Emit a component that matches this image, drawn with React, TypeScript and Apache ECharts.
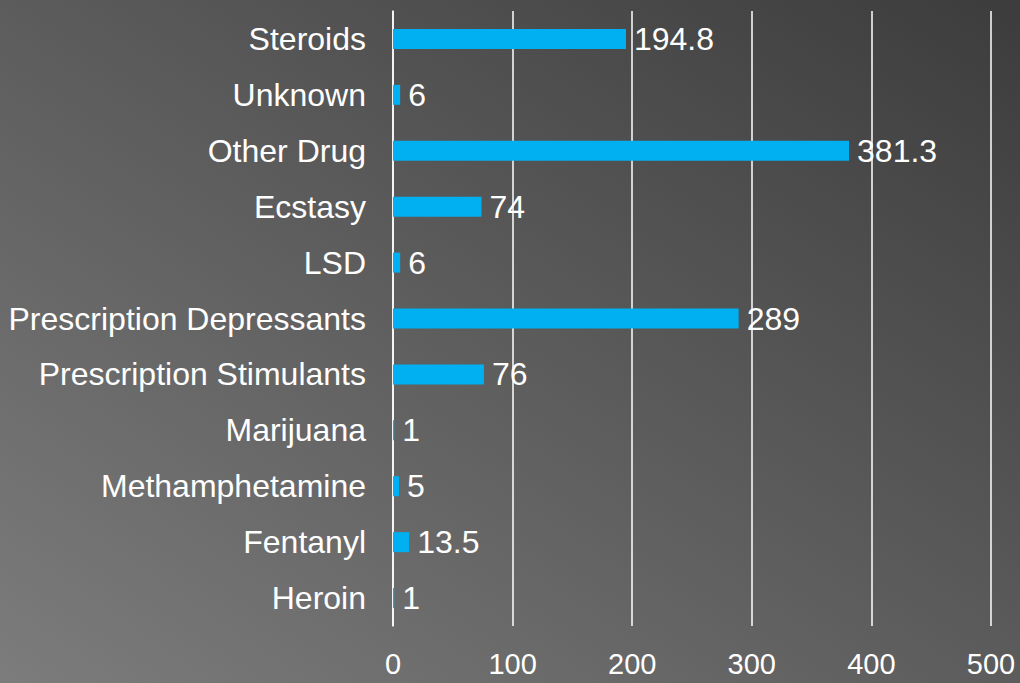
import React, { useEffect, useRef } from "react";
import * as echarts from "echarts";

const categories = [
  "Heroin",
  "Fentanyl",
  "Methamphetamine",
  "Marijuana",
  "Prescription Stimulants",
  "Prescription Depressants",
  "LSD",
  "Ecstasy",
  "Other Drug",
  "Unknown",
  "Steroids",
];
const values = [1, 13.5, 5, 1, 76, 289, 6, 74, 381.3, 6, 194.8];
const xTicks = { min: 0, max: 500, interval: 100 };

export default function App() {
  const ref = useRef<HTMLDivElement>(null);
  useEffect(() => {
    document.body.style.margin = "0";
    const chart = echarts.init(ref.current!, null, { renderer: "svg" });
    const font = "'Liberation Sans', Arial, sans-serif";
    chart.setOption({
      animation: false,
      backgroundColor: new echarts.graphic.LinearGradient(0, 1, 1, 0, [
        { offset: 0, color: "#7c7c7c" },
        { offset: 1, color: "#3c3c3c" },
      ]),
      grid: { left: 393, right: 29, top: 11, bottom: 57, containLabel: false },
      xAxis: {
        type: "value",
        min: xTicks.min,
        max: xTicks.max,
        interval: xTicks.interval,
        axisLine: { show: false },
        axisTick: { show: false },
        splitLine: { show: true, lineStyle: { color: "#ffffff", width: 1.5 } },
        axisLabel: {
          color: "#ffffff",
          fontSize: 29,
          fontFamily: "'Liberation Sans Narrow', 'Arial Narrow', 'Liberation Sans', sans-serif",
          margin: 23,
        },
      },
      yAxis: {
        type: "category",
        data: categories,
        axisLine: { show: true, lineStyle: { color: "#ffffff", width: 1.5 } },
        axisTick: { show: false },
        axisLabel: {
          color: "#ffffff",
          fontSize: 32,
          fontFamily: font,
          margin: 27,
          padding: [4, 0, 0, 0],
        },
      },
      series: [
        {
          type: "bar",
          data: values,
          barWidth: 20,
          itemStyle: { color: "#00b0f0" },
          label: {
            show: true,
            position: "right",
            distance: 8,
            color: "#ffffff",
            fontSize: 32,
            fontFamily: font,
            padding: [5, 0, 0, 0],
          },
        },
      ],
    });
    return () => chart.dispose();
  }, []);
  return <div ref={ref} style={{ width: 1020, height: 683 }} />;
}
